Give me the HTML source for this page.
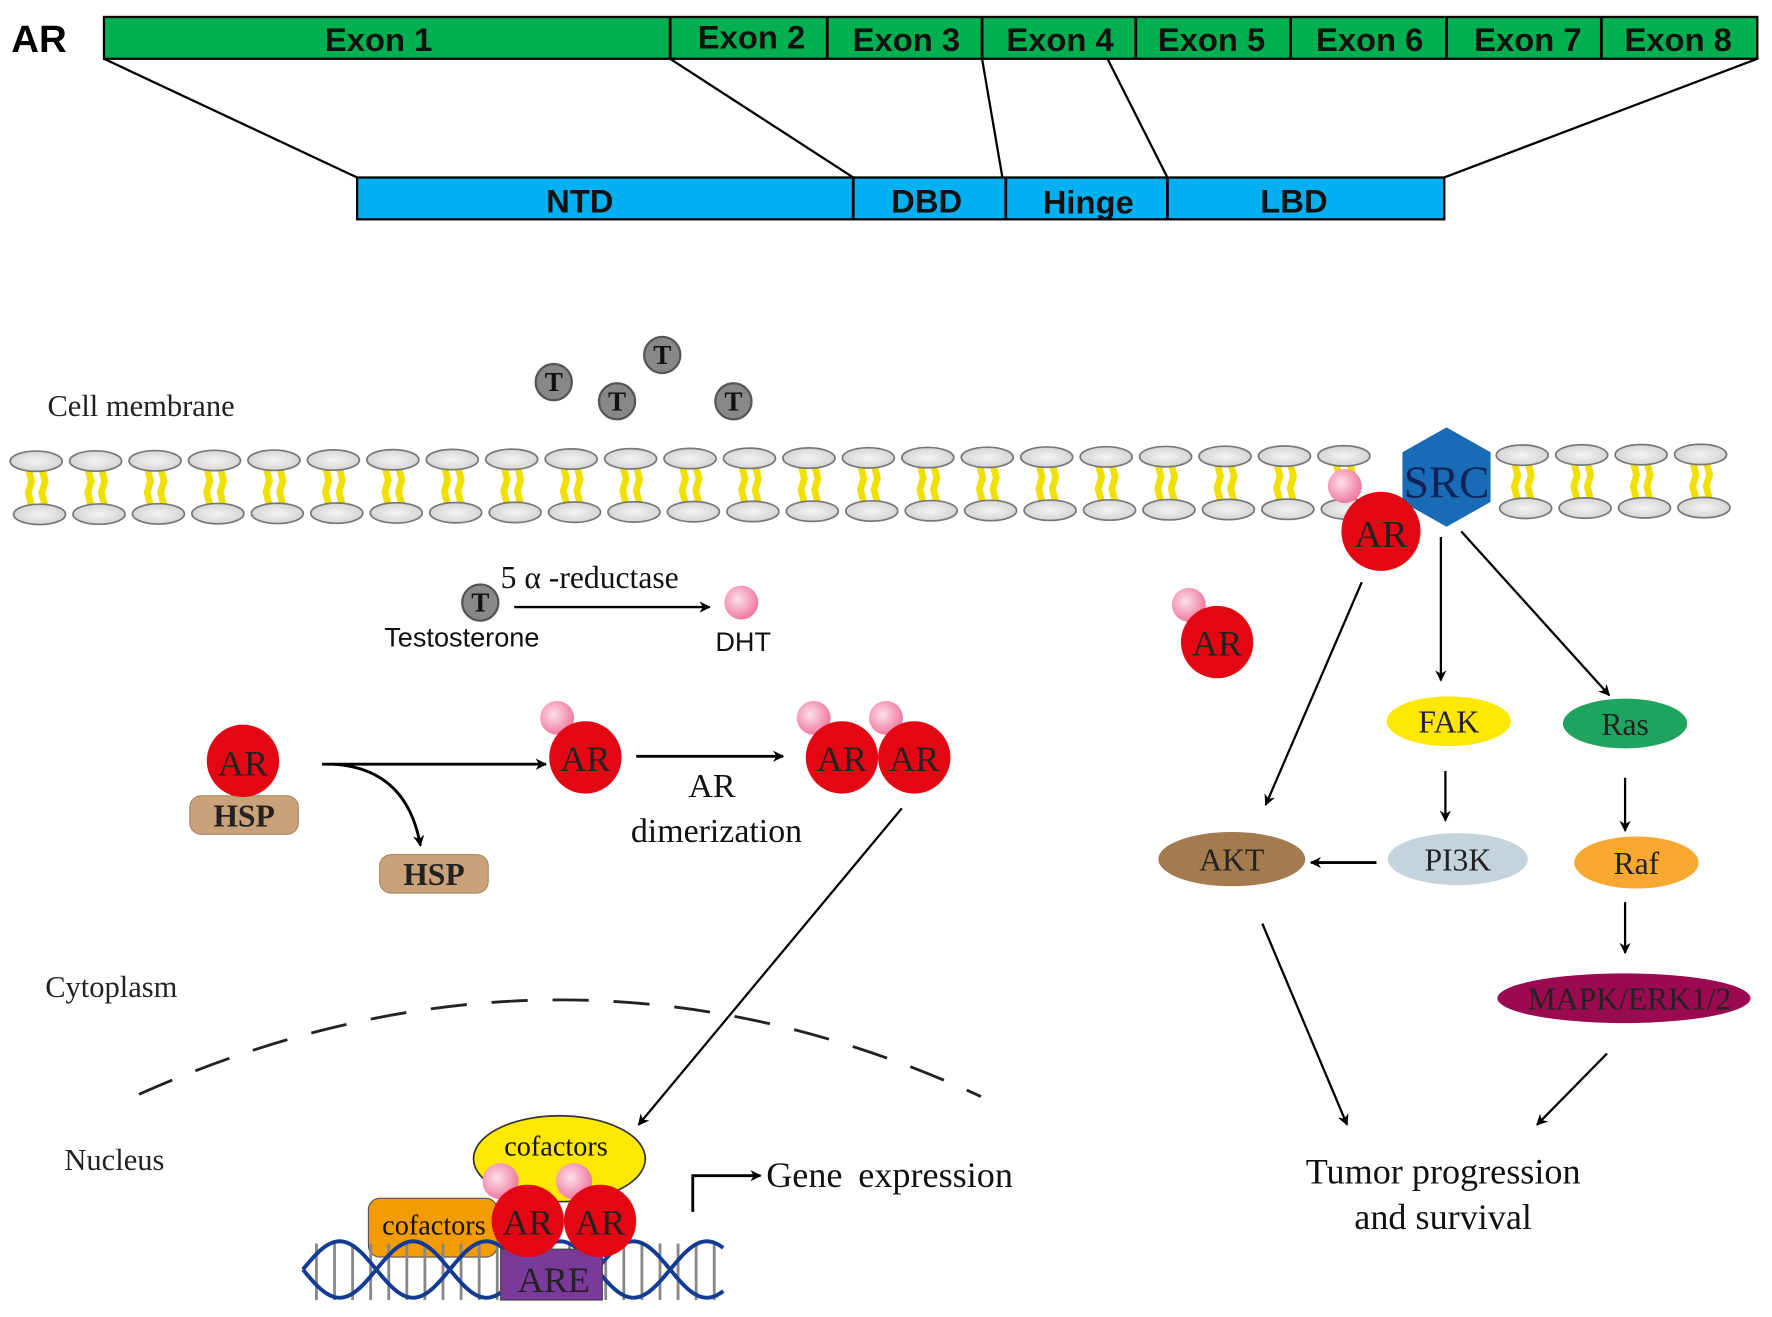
<!DOCTYPE html>
<html><head><meta charset="utf-8"><style>
html,body{margin:0;padding:0;background:#fff}
svg{display:block}
.s{font-family:"Liberation Serif",serif}
.b{font-family:"Liberation Sans",sans-serif;font-weight:bold}
</style></head><body>
<svg width="1772" height="1317" viewBox="0 0 1568 1165" preserveAspectRatio="none" xmlns="http://www.w3.org/2000/svg">
<defs>
<marker id="ah" markerWidth="10" markerHeight="10" refX="9" refY="5" orient="auto" markerUnits="userSpaceOnUse" viewBox="0 0 10 10"><path d="M0,0 L10,5 L0,10 L3,5 z" fill="#000"/></marker>
<radialGradient id="pk" cx="40%" cy="40%" r="60%"><stop offset="0" stop-color="#fde0ea"/><stop offset="1" stop-color="#f07aa0"/></radialGradient>
<radialGradient id="gr" cx="50%" cy="50%" r="60%"><stop offset="0" stop-color="#f4f4f4"/><stop offset="1" stop-color="#cfcfcf"/></radialGradient>
</defs>
<text x="10" y="46" class="b" font-size="34">AR</text>
<rect x="92" y="15" width="1463" height="37" fill="#00b050" stroke="#000" stroke-width="2"/>
<g stroke="#000" stroke-width="2.5">
<line x1="593" y1="15" x2="593" y2="52"/><line x1="732" y1="15" x2="732" y2="52"/><line x1="869" y1="15" x2="869" y2="52"/><line x1="1005" y1="15" x2="1005" y2="52"/><line x1="1142" y1="15" x2="1142" y2="52"/><line x1="1280" y1="15" x2="1280" y2="52"/><line x1="1417" y1="15" x2="1417" y2="52"/>
</g>
<g class="b" font-size="29" text-anchor="middle" fill="#111">
<text x="335" y="45">Exon 1</text><text x="665" y="43">Exon 2</text><text x="802" y="45">Exon 3</text><text x="938" y="45">Exon 4</text><text x="1072" y="45">Exon 5</text><text x="1212" y="45">Exon 6</text><text x="1352" y="45">Exon 7</text><text x="1485" y="45">Exon 8</text>
</g>
<g stroke="#000" stroke-width="2"><line x1="92" y1="52" x2="316" y2="157"/><line x1="593" y1="52" x2="755" y2="157"/><line x1="869" y1="52" x2="887" y2="157"/><line x1="980" y1="52" x2="1033" y2="157"/><line x1="1555" y1="52" x2="1278" y2="157"/></g>
<rect x="316" y="157" width="962" height="37" fill="#00b0f0" stroke="#000" stroke-width="2"/>
<g stroke="#000" stroke-width="2.5"><line x1="755" y1="157" x2="755" y2="194"/><line x1="890" y1="157" x2="890" y2="194"/><line x1="1033" y1="157" x2="1033" y2="194"/></g>
<g class="b" font-size="29" text-anchor="middle" fill="#111"><text x="513" y="188">NTD</text><text x="820" y="188">DBD</text><text x="963" y="189">Hinge</text><text x="1145" y="188">LBD</text></g>
<text x="42" y="368" class="s" font-size="27" fill="#222">Cell membrane</text>
<g id="mem"></g>
<g fill="#888" stroke="#555" stroke-width="2">
<circle cx="490" cy="338" r="16"/><circle cx="586" cy="314" r="16"/><circle cx="546" cy="355" r="16"/><circle cx="649" cy="355" r="16"/><circle cx="425" cy="533" r="16"/>
</g>
<g class="s" font-size="24" font-weight="bold" text-anchor="middle" fill="#111">
<text x="490" y="346">T</text><text x="586" y="322">T</text><text x="546" y="363">T</text><text x="649" y="363">T</text><text x="425" y="541">T</text>
</g>
<circle cx="1190" cy="430" r="15" fill="url(#pk)"/>
<polygon points="1280,378 1319,400 1319,444 1280,466 1241,444 1241,400" fill="#1a6bb5"/>
<text x="1280" y="440" class="s" font-size="40" text-anchor="middle" fill="#10245a">SRC</text>
<circle cx="1222" cy="470" r="35" fill="#e30613"/>
<text x="1222" y="484" class="s" font-size="34" text-anchor="middle" fill="#222">AR</text>
<text x="443" y="520" class="s" font-size="28" fill="#111">5 α -reductase</text>
<line x1="455" y1="537" x2="628" y2="537" stroke="#000" stroke-width="2" marker-end="url(#ah)"/>
<circle cx="656" cy="533" r="15" fill="url(#pk)"/>
<text x="340" y="572" font-family="Liberation Sans,sans-serif" font-size="24" fill="#111">Testosterone</text>
<text x="633" y="576" font-family="Liberation Sans,sans-serif" font-size="24" fill="#111">DHT</text>
<circle cx="1052" cy="535" r="15" fill="url(#pk)"/>
<circle cx="1077" cy="568" r="32" fill="#e30613"/><text x="1077" y="580" class="s" font-size="32" text-anchor="middle" fill="#222">AR</text>
<rect x="168" y="704" width="96" height="34" rx="10" fill="#c9a27a" stroke="#a88660"/>
<text x="216" y="731" class="s" font-size="28" font-weight="bold" text-anchor="middle" fill="#222">HSP</text>
<circle cx="215" cy="673" r="32" fill="#e30613"/><text x="215" y="686" class="s" font-size="32" text-anchor="middle" fill="#222">AR</text>
<line x1="285" y1="676" x2="483" y2="676" stroke="#000" stroke-width="2.5" marker-end="url(#ah)"/>
<path d="M295,676 Q360,680 372,748" fill="none" stroke="#000" stroke-width="2.5" marker-end="url(#ah)"/>
<rect x="336" y="756" width="96" height="34" rx="10" fill="#c9a27a" stroke="#a88660"/>
<text x="384" y="783" class="s" font-size="28" font-weight="bold" text-anchor="middle" fill="#222">HSP</text>
<circle cx="493" cy="635" r="15" fill="url(#pk)"/>
<circle cx="518" cy="670" r="32" fill="#e30613"/><text x="518" y="682" class="s" font-size="32" text-anchor="middle" fill="#222">AR</text>
<line x1="563" y1="669" x2="693" y2="669" stroke="#000" stroke-width="2.5" marker-end="url(#ah)"/>
<text x="630" y="705" class="s" font-size="30" text-anchor="middle" fill="#111">AR</text>
<text x="634" y="745" class="s" font-size="30" text-anchor="middle" fill="#111">dimerization</text>
<circle cx="720" cy="635" r="15" fill="url(#pk)"/><circle cx="784" cy="635" r="15" fill="url(#pk)"/>
<circle cx="745" cy="670" r="32" fill="#e30613"/><circle cx="809" cy="670" r="32" fill="#e30613"/>
<text x="745" y="682" class="s" font-size="32" text-anchor="middle" fill="#222">AR</text><text x="809" y="682" class="s" font-size="32" text-anchor="middle" fill="#222">AR</text>
<line x1="798" y1="715" x2="565" y2="995" stroke="#000" stroke-width="2" marker-end="url(#ah)"/>
<text x="40" y="882" class="s" font-size="27" fill="#222">Cytoplasm</text>
<text x="57" y="1035" class="s" font-size="27" fill="#222">Nucleus</text>
<path d="M123,968 Q500,800 868,970" fill="none" stroke="#222" stroke-width="2.5" stroke-dasharray="32,22"/>
<ellipse cx="495" cy="1025" rx="76" ry="38" fill="#ffe800" stroke="#333" stroke-width="1.5"/>
<text x="492" y="1022" class="s" font-size="25" text-anchor="middle" fill="#111">cofactors</text>
<rect x="326" y="1060" width="114" height="52" rx="10" fill="#f39c00" stroke="#555"/>
<g id="dna"></g>
<rect x="443" y="1105" width="90" height="45" fill="#7a3a9a" stroke="#444"/>
<text x="490" y="1143" class="s" font-size="32" text-anchor="middle" fill="#222">ARE</text>
<text x="384" y="1092" class="s" font-size="25" text-anchor="middle" fill="#111">cofactors</text>
<circle cx="443" cy="1045" r="16" fill="url(#pk)"/><circle cx="508" cy="1045" r="16" fill="url(#pk)"/>
<circle cx="467" cy="1080" r="32" fill="#e30613"/><circle cx="531" cy="1080" r="32" fill="#e30613"/>
<text x="467" y="1092" class="s" font-size="32" text-anchor="middle" fill="#222">AR</text><text x="531" y="1092" class="s" font-size="32" text-anchor="middle" fill="#222">AR</text>
<path d="M613,1072 L613,1040 L673,1040" fill="none" stroke="#000" stroke-width="2.5" marker-end="url(#ah)"/>
<text x="678" y="1050" class="s" font-size="32" fill="#111" word-spacing="6">Gene expression</text>
<g stroke="#000" stroke-width="2" fill="none">
<line x1="1205" y1="515" x2="1120" y2="712" marker-end="url(#ah)"/>
<line x1="1275" y1="475" x2="1275" y2="602" marker-end="url(#ah)"/>
<line x1="1293" y1="470" x2="1424" y2="615" marker-end="url(#ah)"/>
<line x1="1279" y1="682" x2="1279" y2="726" marker-end="url(#ah)"/>
<line x1="1438" y1="688" x2="1438" y2="735" marker-end="url(#ah)"/>
<line x1="1218" y1="763" x2="1160" y2="763" stroke-width="2.5" marker-end="url(#ah)"/>
<line x1="1438" y1="798" x2="1438" y2="843" marker-end="url(#ah)"/>
<line x1="1117" y1="817" x2="1192" y2="995" marker-end="url(#ah)"/>
<line x1="1422" y1="932" x2="1360" y2="995" marker-end="url(#ah)"/>
</g>
<ellipse cx="1282" cy="638" rx="55" ry="22" fill="#ffe800"/><text x="1282" y="648" class="s" font-size="28" text-anchor="middle" fill="#222">FAK</text>
<ellipse cx="1438" cy="640" rx="55" ry="22" fill="#1fa35f"/><text x="1438" y="650" class="s" font-size="28" text-anchor="middle" fill="#222">Ras</text>
<ellipse cx="1290" cy="760" rx="62" ry="23" fill="#c5d3dc"/><text x="1290" y="770" class="s" font-size="28" text-anchor="middle" fill="#222">PI3K</text>
<ellipse cx="1090" cy="760" rx="65" ry="24" fill="#a47a4f"/><text x="1090" y="770" class="s" font-size="28" text-anchor="middle" fill="#222">AKT</text>
<ellipse cx="1448" cy="763" rx="55" ry="23" fill="#f7a830"/><text x="1448" y="773" class="s" font-size="28" text-anchor="middle" fill="#222">Raf</text>
<ellipse cx="1437" cy="883" rx="112" ry="22" fill="#9b0a50"/><text x="1442" y="893" class="s" font-size="28" text-anchor="middle" fill="#222">MAPK/ERK1/2</text>
<text x="1277" y="1047" class="s" font-size="32" text-anchor="middle" fill="#111">Tumor progression</text>
<text x="1277" y="1087" class="s" font-size="32" text-anchor="middle" fill="#111">and survival</text>
</svg>
<script>
(function(){
var ns="http://www.w3.org/2000/svg";
function el(p,t,a){var e=document.createElementNS(ns,t);for(var k in a)e.setAttribute(k,a[k]);p.appendChild(e);return e;}
var m=document.getElementById('mem');
for(var i=0;i<=28;i++){
 var x=32+i*52.6;
 var f=(x-32)/1473, ty=408-6*f, by=455-6*f;
 if(x>1230&&x<1330) continue;
 el(m,'path',{d:'M'+(x-7)+','+(ty+6)+' l3,12 l-3,10 l3,12 M'+(x+5)+','+(ty+6)+' l3,12 l-3,10 l3,12',stroke:'#f0e000','stroke-width':6,fill:'none'});
 el(m,'ellipse',{cx:x,cy:ty,rx:23,ry:9,fill:'url(#gr)',stroke:'#777','stroke-width':1.5});
 el(m,'ellipse',{cx:x+3,cy:by,rx:23,ry:9,fill:'url(#gr)',stroke:'#777','stroke-width':1.5});
}
var d=document.getElementById('dna');
for(var x=280;x<640;x+=16){el(d,'line',{x1:x,y1:1100,x2:x,y2:1150,stroke:'#888','stroke-width':2.5});}
var p1='',p2='';
for(var x=268;x<=642;x+=3){var y=1123+25*Math.sin((x-268)/130*2*Math.PI);var y2=1123-25*Math.sin((x-268)/130*2*Math.PI);p1+=(p1?'L':'M')+x+','+y.toFixed(1);p2+=(p2?'L':'M')+x+','+y2.toFixed(1);}
el(d,'path',{d:p1,stroke:'#123c94','stroke-width':3.5,fill:'none'});
el(d,'path',{d:p2,stroke:'#123c94','stroke-width':3.5,fill:'none'});
})();
</script>
</body></html>
